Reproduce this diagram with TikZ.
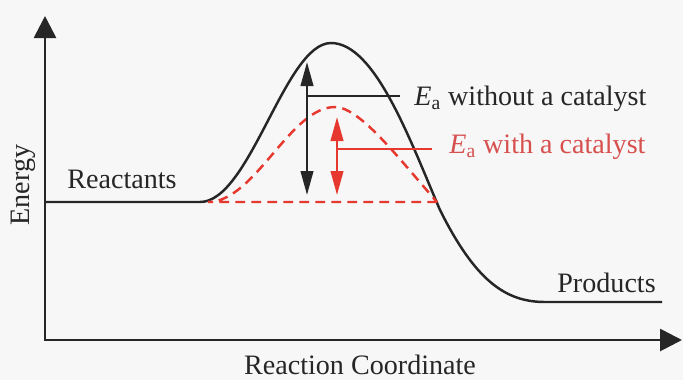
\documentclass[tikz,border=0pt]{standalone}
\usepackage{fontspec}
\setmainfont{Liberation Serif}
\usepackage{tikz}
\usetikzlibrary{arrows.meta, positioning, calc}
\definecolor{ink}{RGB}{38,38,38}
\definecolor{catred}{RGB}{230,56,46}
\definecolor{cattext}{RGB}{214,80,78}
\definecolor{paper}{RGB}{247,247,247}

\begin{document}
\begin{tikzpicture}[x=0.02cm, y=-0.02cm,
    lbl/.style={font=\fontsize{16}{19}\selectfont, text=ink, inner sep=0pt},
    axis/.style={draw=ink, line width=1.6pt, {Triangle[length=4.4mm, width=4.4mm]}-{Triangle[length=4.4mm, width=4.4mm]}},
    eabar/.style={line width=1.4pt, {Triangle[length=4.8mm, width=2.5mm]}-{Triangle[length=4.8mm, width=2.5mm]}},
    curve/.style={draw=ink, line width=1.4pt}]
  \fill[paper] (0,0) rectangle (683,380);
  \useasboundingbox (0,0) rectangle (683,380);

  \coordinate (ytop) at (45,16);
  \coordinate (origin) at (45,340);
  \coordinate (xend) at (682,340);
  \draw[axis] (ytop) -- (origin) -- (xend);

  \coordinate (reacL) at (45,202);
  \coordinate (reacR) at (200,202);
  \coordinate (peak) at (331,43);
  \coordinate (fall) at (440,210);
  \coordinate (prodL) at (545,302);
  \coordinate (prodR) at (662,302);
  \draw[curve] (reacL) -- (reacR) .. controls (250,202) and (285,43) .. (peak)
    .. controls (375,43) and (410,140) .. (fall)
    .. controls (475,280) and (505,302) .. (prodL) -- (prodR);

  \coordinate (catL) at (208,202);
  \coordinate (catPeak) at (335,107);
  \coordinate (catR) at (437,202);
  \draw[catred, line width=1.4pt, dash pattern=on 5.5pt off 3.6pt]
    (catR) -- (catL) .. controls (255,202) and (290,107) .. (catPeak)
    .. controls (360,107) and (400,160) .. (catR);

  \coordinate (noTop) at (307,62);
  \coordinate (noBot) at (307,195);
  \coordinate (noMid) at (307,96);
  \coordinate (noEnd) at (400,96);
  \draw[eabar, ink] (noTop) -- (noBot);
  \draw[ink, line width=1.4pt] (noMid) -- (noEnd);

  \coordinate (yesTop) at (337,117);
  \coordinate (yesBot) at (337,195);
  \coordinate (yesMid) at (337,149);
  \coordinate (yesEnd) at (432,149);
  \draw[eabar, catred] (yesTop) -- (yesBot);
  \draw[catred, line width=1.4pt] (yesMid) -- (yesEnd);

  \node[lbl, anchor=base west] (noCat) at (414,105) {\textit{E}\textsubscript{a} without a catalyst};
  \node[lbl, anchor=base west, text=cattext] (withCat) at (449,153) {\textit{E}\textsubscript{a} with a catalyst};
  \node[lbl, anchor=base west] (reac) at (67,188) {Reactants};
  \node[lbl, anchor=base west] (prod) at (557,292) {Products};
  \node[lbl, anchor=base] (xlab) at (360,374) {Reaction Coordinate};
  \node[lbl, anchor=base, rotate=90] (ylab) at (30,185) {Energy};
\end{tikzpicture}
\end{document}
